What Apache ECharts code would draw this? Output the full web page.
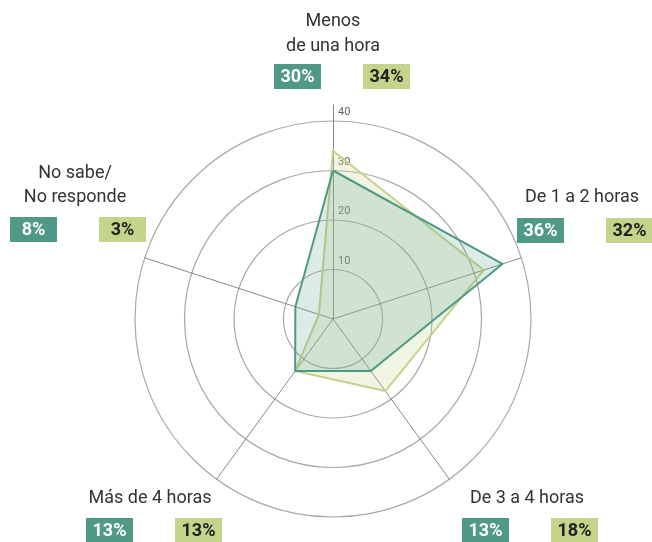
<!DOCTYPE html>
<html><head><meta charset="utf-8">
<script src="https://cdn.jsdelivr.net/npm/echarts@6/dist/echarts.min.js"></script>
<style>html,body{margin:0;padding:0;background:#fff}#c{width:652px;height:542px}</style>
</head><body><div id="c"></div>
<script>
// Categories in clockwise order from top
const categories = ['Menos\nde una hora', 'De 1 a 2 horas', 'De 3 a 4 horas', 'Más de 4 horas', 'No sabe/\nNo responde'];
const seriesA = [30, 36, 13, 13, 8];   // teal
const seriesB = [34, 32, 18, 13, 3];   // light green
const tickLabels = ['10', '20', '30', '40'];
const maxVal = 40;

const TEAL = '#4f9986', GREEN = '#c4d48a';
const cx = 333, cy = 319, R = 198, RAXIS = 214;

// ECharts radar places indicators counter-clockwise; reorder
const ccw = [0, 4, 3, 2, 1];
const ind = ccw.map(i => ({ name: categories[i], max: maxVal, min: 0 }));
const vA = ccw.map(i => seriesA[i]);
const vB = ccw.map(i => seriesB[i]);

// label boxes
const labelPos = [
  { name: [333, 21, 46], a: [274, 64], b: [363, 64] },
  { name: [582, 197], a: [517, 218], b: [606, 218] },
  { name: [527, 498], a: [462, 518], b: [551, 518] },
  { name: [150, 498], a: [86, 518], b: [175, 518] },
  { name: [75, 173, 197], a: [10, 217], b: [99, 217] }
];
const graphics = [];
categories.forEach((c, i) => {
  const p = labelPos[i];
  const lines = c.split('\n');
  lines.forEach((ln, k) => {
    graphics.push({ type: 'text', x: p.name[0], y: p.name[1 + k], style: { text: ln, font: '18px Roboto', fill: '#333', align: 'center', verticalAlign: 'middle' } });
  });
  [[p.a, seriesA[i], TEAL, '#fff'], [p.b, seriesB[i], GREEN, '#222']].forEach(([pt, v, bg, fg]) => {
    graphics.push({ type: 'rect', shape: { x: pt[0], y: pt[1], width: 47, height: 25 }, style: { fill: bg } });
    graphics.push({ type: 'text', x: pt[0] + 23.5, y: pt[1] + 13, style: { text: v + '%', font: 'bold 18px Roboto', fill: fg, align: 'center', verticalAlign: 'middle' } });
  });
});

const chart = echarts.init(document.getElementById('c'));
chart.setOption({
  animation: false,
  polar: { center: [cx, cy], radius: RAXIS },
  angleAxis: { show: false, min: 0, max: 360, startAngle: 90 },
  radiusAxis: {
    min: 0, max: maxVal * RAXIS / R, interval: 10,
    axisLine: { show: true, lineStyle: { color: '#888', width: 1 } },
    axisTick: { show: false },
    splitLine: { show: false },
    axisLabel: {
      show: true, color: '#666', fontSize: 11, fontFamily: 'Roboto',
      margin: -5, align: 'left', verticalAlign: 'bottom', padding: [0, 0, 3, 0],
      formatter: function (v) { const i = Math.round(v / 10) - 1; return (Math.abs(v - (i + 1) * 10) < 1e-6 && i >= 0 && i < tickLabels.length) ? tickLabels[i] : ''; }
    }
  },
  radar: {
    center: [cx, cy], radius: R, shape: 'circle', splitNumber: 4,
    indicator: ind,
    axisName: { show: false },
    axisLine: { lineStyle: { color: '#888', width: 1 } },
    splitLine: { lineStyle: { color: '#a8a8a8', width: 1.2 } },
    splitArea: { show: false },
    axisLabel: { show: false }
  },
  series: [{
    type: 'radar', symbol: 'none',
    data: [
      { value: vB, lineStyle: { color: GREEN, width: 2 }, areaStyle: { color: 'rgba(196,212,138,0.36)' } },
      { value: vA, lineStyle: { color: TEAL, width: 2 }, areaStyle: { color: 'rgba(79,153,134,0.28)' } }
    ]
  }],
  graphic: graphics
});
</script></body></html>
